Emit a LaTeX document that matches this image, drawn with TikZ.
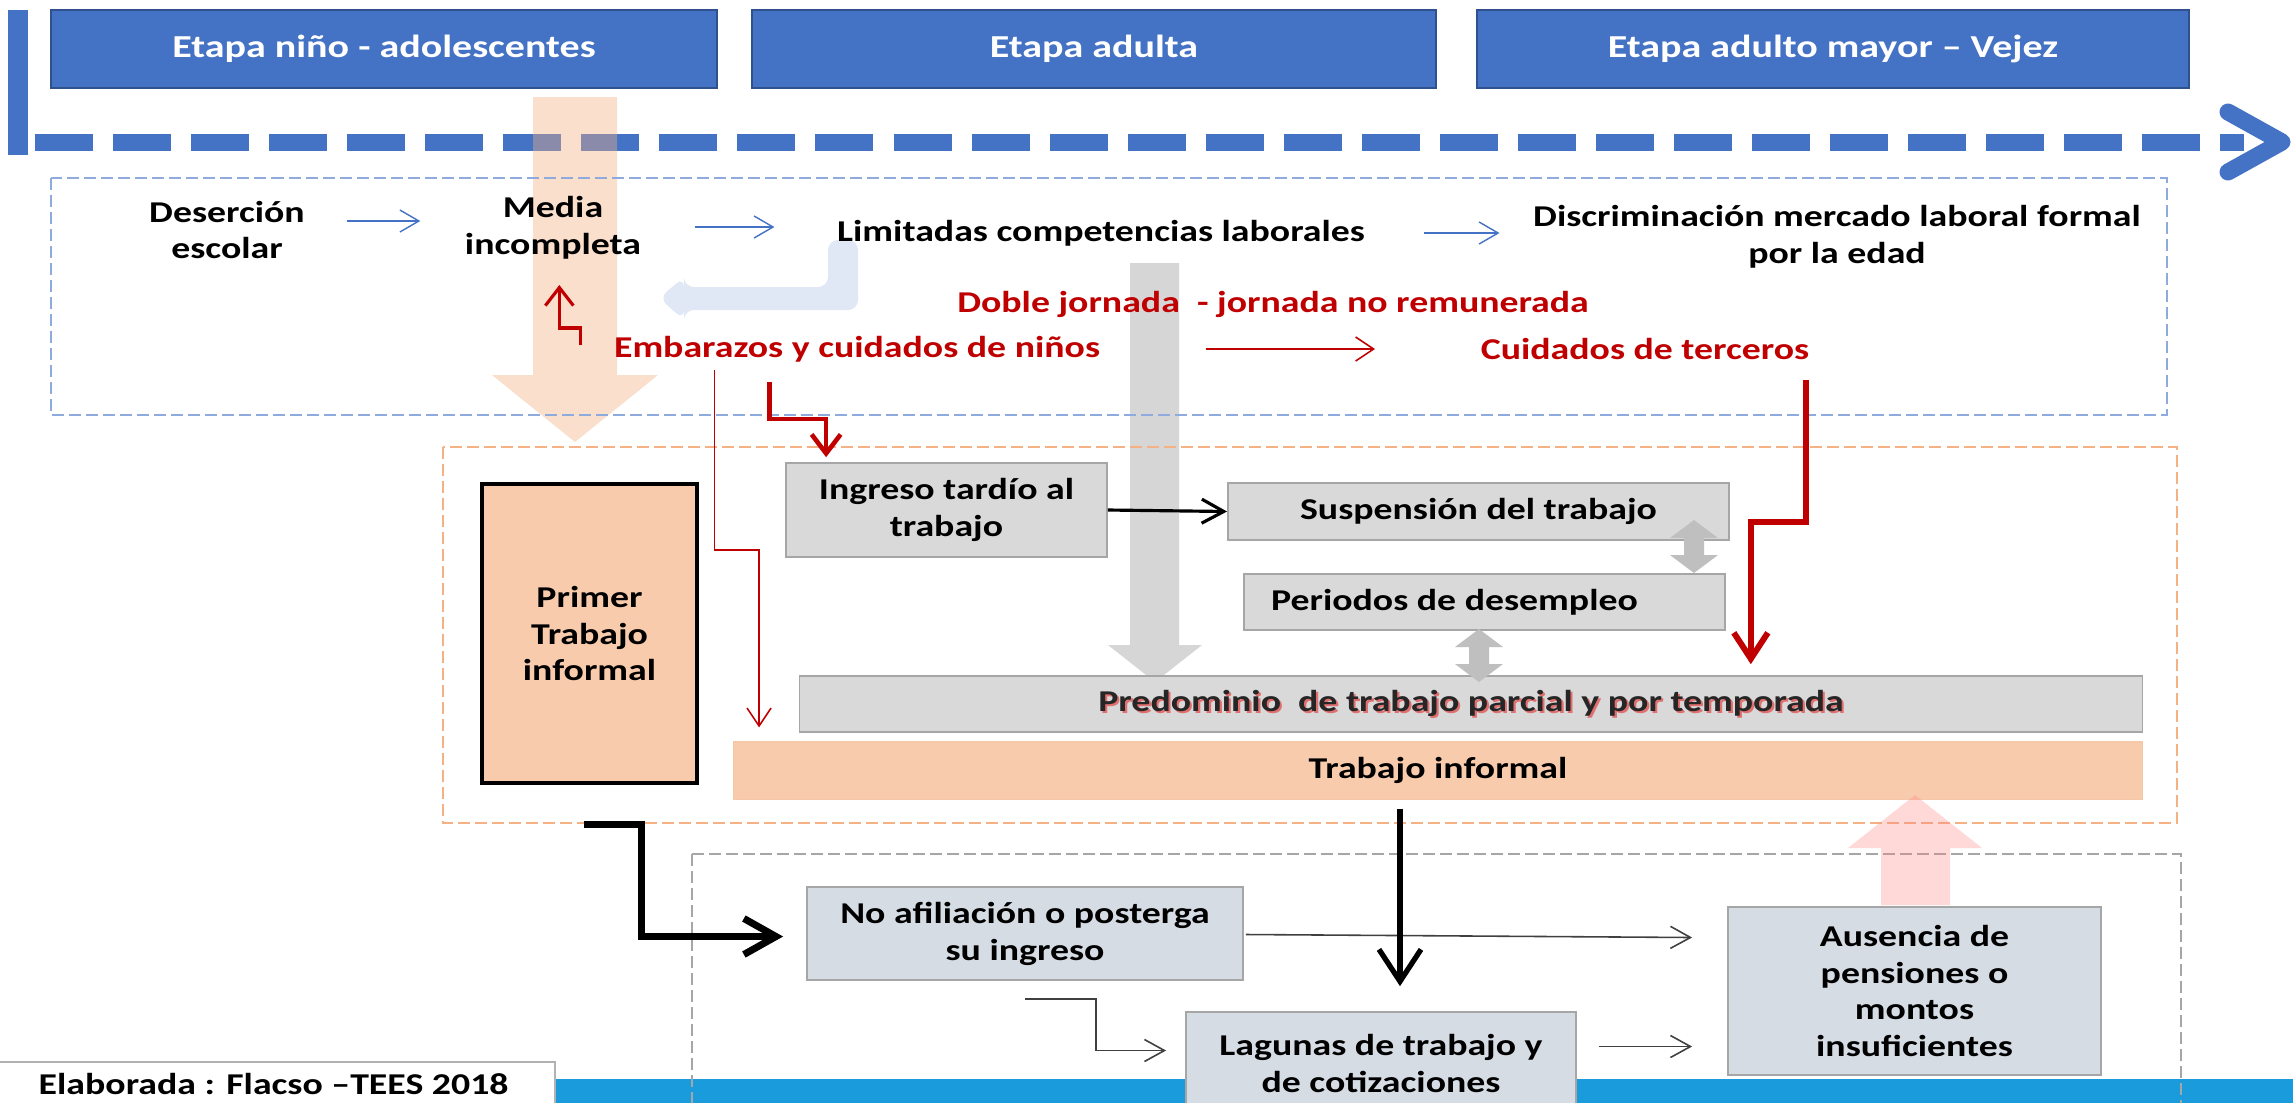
\documentclass[tikz,border=0pt]{standalone}
\usepackage{fontspec}
\setmainfont{Carlito}[FakeStretch=1.25]
\usetikzlibrary{arrows.meta,calc}
\definecolor{hblue}{HTML}{4472C4}
\definecolor{hborder}{HTML}{2F528F}
\definecolor{bdash}{HTML}{8FAADC}
\definecolor{odash}{HTML}{F4B183}
\definecolor{gdash}{HTML}{A6A6A6}
\definecolor{peach}{HTML}{F8CBAD}
\definecolor{lgray}{HTML}{D9D9D9}
\definecolor{bgray}{HTML}{D6DCE4}
\definecolor{dred}{HTML}{C00000}
\definecolor{band}{HTML}{1A9BDB}
\definecolor{predglow}{HTML}{E07070}
\newcommand{\glowtxt}[1]{\makebox[0pt][l]{\hspace{0.6pt}\raisebox{-0.6pt}{\color{predglow}#1}}#1}
\newcommand{\vdblarrow}[3]{\fill[black!25] (#1,#2) -- (#1+24,#2+18) -- (#1+10,#2+18) -- (#1+10,#3-18) -- (#1+24,#3-18) -- (#1,#3) -- (#1-24,#3-18) -- (#1-10,#3-18) -- (#1-10,#2+18) -- (#1-24,#2+18) -- cycle;}
\begin{document}
\begin{tikzpicture}[x=0.01cm,y=-0.01cm,
  every node/.style={inner sep=0pt, font=\fontsize{8.6}{10.5}\selectfont\bfseries},
  hdr/.style={fill=hblue, draw=hborder, line width=0.6pt, text=white, minimum height=0.78cm, font=\fontsize{9.1}{11}\selectfont\bfseries},
  lbl/.style={align=center, text=black},
  rlbl/.style={text=dred},
  greybox/.style={fill=lgray, draw=gdash, line width=0.45pt, align=center},
  slatebox/.style={fill=bgray, draw=gdash, line width=0.45pt, align=center},
  peachbox/.style={fill=peach, draw=odash!70, line width=0.3pt, align=center},
  dashbox/.style={line width=0.8pt, dash pattern=on 0.12cm off 0.05cm},
  thinblue/.style={draw=hblue, line width=0.4pt, -{Straight Barb[length=1.9mm,width=2.2mm]}},
  thinred/.style={draw=dred, line width=0.45pt, -{Straight Barb[length=1.8mm,width=2.4mm]}},
  thinblack/.style={draw=black!75, line width=0.45pt, -{Straight Barb[length=2mm,width=2.2mm]}},
  redmid/.style={draw=dred, line width=0.9pt, -{Straight Barb[length=1.8mm,width=2.8mm]}},
  redbold/.style={draw=dred, line width=1.3pt, -{Straight Barb[length=1.9mm,width=2.9mm]}},
  redheavy/.style={draw=dred, line width=1.7pt, -{Straight Barb[length=2.6mm,width=3.4mm]}},
  blkmid/.style={draw=black, line width=0.9pt, -{Straight Barb[length=2.2mm,width=2.4mm]}},
  blkbold/.style={draw=black, line width=1.5pt, -{Straight Barb[length=3.2mm,width=4.2mm]}},
  blkheavy/.style={draw=black, line width=2pt, -{Straight Barb[length=3.2mm,width=3.6mm]}}
]
\useasboundingbox (0,0) rectangle (2293,1102);
\clip (0,0) rectangle (2293,1102);
\fill[white] (0,0) rectangle (2293,1102);

% bottom band
\fill[band] (555,1079) rectangle (2293,1120);

% header boxes
\node[hdr, minimum width=6.66cm] (h1) at (384,49) {Etapa niño - adolescentes};
\node[hdr, minimum width=6.84cm] (h2) at (1094,49) {Etapa adulta};
\node[hdr, minimum width=7.12cm] (h3) at (1833,49) {Etapa adulto mayor – Vejez};

% timeline
\fill[hblue] (8,10) rectangle (28,155);
\draw[hblue, line width=0.17cm, dash pattern=on 0.58cm off 0.2cm] (35,142) -- (2244,142);
\draw[hblue, line width=0.17cm, line cap=round, line join=round] (2228,112) -- (2282,142) -- (2228,172);

% translucent background arrows
\fill[odash, fill opacity=0.4] (533,97) -- (617,97) -- (617,375) -- (658,375) -- (575,442) -- (492,375) -- (533,375) -- cycle;
\fill[black!20, fill opacity=0.8] (1130,263) -- (1179,263) -- (1179,645) -- (1202,645) -- (1155,682) -- (1108,645) -- (1130,645) -- cycle;
\fill[hblue!35, fill opacity=0.45, rounded corners=0.1cm] (659,298) -- (684,277) -- (684,287) -- (828,287) -- (828,240) -- (858,240) -- (858,310) -- (684,310) -- (684,320) -- cycle;

% dashed frames
\draw[bdash, dashbox] (51,178) rectangle (2167,415);
\draw[odash, dashbox] (443,447) rectangle (2177,823);
\draw[gdash, dashbox] (692,854) rectangle (2181,1140);

% top texts
\node[lbl] (des) at (227,230) {Deserción\\escolar};
\node[lbl] (med) at (553,228) {Media\\incompleta};
\node[lbl] (lim) at (1101,233) {Limitadas competencias laborales};
\node[lbl] (dis) at (1837,237) {Discriminación mercado laboral formal\\por la edad};
\node[rlbl] (doble) at (1273,304) {Doble jornada\ \ - jornada no remunerada};
\node[rlbl] (emb) at (857,349) {Embarazos y cuidados de niños};
\node[rlbl] (cui) at (1645,349) {Cuidados de terceros};

% middle boxes
\node[peachbox, draw=black, line width=1pt, minimum width=2.15cm, minimum height=2.99cm] (prim) at (589.5,633.5) {Primer\\Trabajo\\informal};
\node[greybox, minimum width=3.21cm, minimum height=0.94cm] (ing) at (946.5,510) {Ingreso tardío al\\trabajo};
\node[greybox, minimum width=5.01cm, minimum height=0.57cm] (sus) at (1478.5,511.5) {Suspensión del trabajo};
\node[greybox, minimum width=4.81cm, minimum height=0.56cm] (per) at (1484.5,602) {\hspace{-0.6cm}Periodos de desempleo};
\node[greybox, minimum width=13.42cm, minimum height=0.56cm, text=black!85] (pred) at (1471,704) {\glowtxt{Predominio\ \ de trabajo parcial y por temporada}};
\node[peachbox, minimum width=14.08cm, minimum height=0.57cm] (tinf) at (1438,770.5) {Trabajo informal};

% lower boxes
\node[slatebox, minimum width=4.36cm, minimum height=0.93cm] (noaf) at (1025,933.5) {No afiliación o posterga\\su ingreso};
\node[slatebox, minimum width=3.90cm, minimum height=1.03cm] (lag) at (1381,1063.5) {Lagunas de trabajo y\\de cotizaciones};
\node[slatebox, minimum width=3.73cm, minimum height=1.68cm] (aus) at (1914.5,991) {Ausencia de\\pensiones o\\montos\\insuficientes};

% pink up arrow
\fill[red!50, fill opacity=0.3] (1881,905) -- (1881,848) -- (1848,848) -- (1915,795) -- (1982,848) -- (1950,848) -- (1950,905) -- cycle;

% grey double arrows
\vdblarrow{1694}{520}{573}
\vdblarrow{1479}{629}{682}

% footer
\draw[draw=black!30, fill=white, line width=0.4pt] (-2,1062) rectangle (555,1120);
\node[anchor=base west, text=black] (foot) at (38,1094) {Elaborada : Flacso –TEES 2018};

% connectors top
\draw[thinblue] ($(des.east)+(41,-9)$) -- ($(med.west)+(-44,-7)$);
\draw[thinblue] ($(med.east)+(53,-1)$) -- ($(lim.west)+(-62,-6)$);
\draw[thinblue] ($(lim.east)+(58,0)$) -- ($(dis.west)+(-33,-4)$);
\draw[thinred] ($(emb.east)+(105,0)$) -- ($(cui.west)+(-105,0)$);

% red connectors
\draw[redmid] ($(emb.west)+(-33,-4)$) -- ++(0,-17) -- ++(-21,0) -- ++(0,-43);
\draw[redbold] ($(emb.west)+(156,33)$) -- ++(0,37) -| ($(ing.north west)+(41,-5)$);
\draw[thinred] ($(emb.west)+(101,21)$) -- ++(0,180) -| ($(tinf.north west)+(26,-14)$);
\draw[redheavy] ($(cui.west)+(326,31)$) -- ++(0,142) -| ($(pred.north west)+(952,-11)$);

% black connectors
\draw[blkmid] (ing.east) -- (sus.west);
\draw[blkheavy] ($(prim.south)+(-6,40)$) -- ++(58,0) |- ($(noaf.west)+(-23,3)$);
\draw[thinblack] ($(noaf.east)+(2,1)$) -- ($(aus.west |- noaf.east)+(-35,4)$);
\draw[blkbold] ($(tinf.south -| lag.north)+(19,9)$) -- ($(lag.north)+(19,-25)$);
\draw[thinblack] ($(noaf.south)+(0,18)$) -- ++(71,0) |- ($(lag.west)+(-19,-13)$);
\draw[thinblack] ($(lag.east)+(22,-17)$) -- ($(aus.west |- lag.east)+(-35,-17)$);
\end{tikzpicture}
\end{document}
